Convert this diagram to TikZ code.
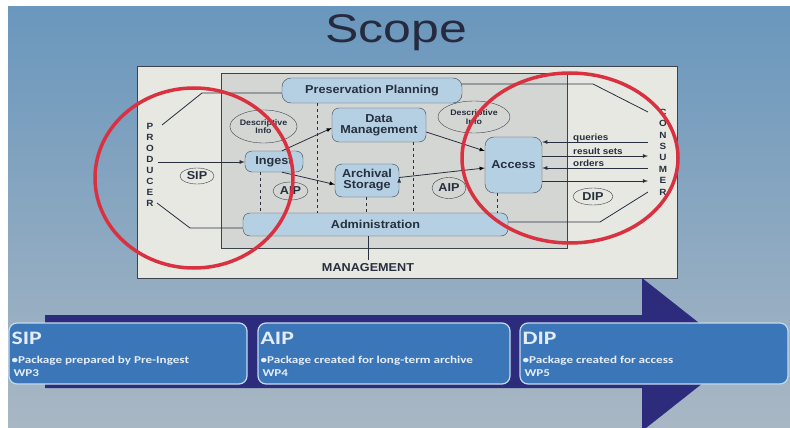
\documentclass[tikz,border=0pt]{standalone}
\usepackage{fontspec}
\setmainfont{Liberation Sans}[FakeStretch=1.1]
\newfontfamily\titlefont{Liberation Sans}[FakeStretch=1.25]
\newfontfamily\calibri{Carlito}[FakeStretch=1.25]
\usetikzlibrary{shapes.geometric,arrows}

\definecolor{slidetop}{HTML}{6A97BD}
\definecolor{slidebottom}{HTML}{A9B7C4}
\definecolor{paper}{HTML}{E7E8E1}
\definecolor{oaisgray}{HTML}{D4D6D4}
\definecolor{oaisblue}{HTML}{B6D0E3}
\definecolor{edge}{HTML}{3C434C}
\definecolor{ink}{HTML}{27303F}
\definecolor{ringred}{HTML}{DA3140}
\definecolor{navy}{HTML}{2D2B7C}
\definecolor{wpblue}{HTML}{3B77B8}
\definecolor{wpedge}{HTML}{C6DAEE}
\definecolor{wptext}{HTML}{E4EDF7}

\newcommand\oaisfont{\bfseries\fontsize{11.5pt}{11pt}\selectfont}
\newcommand\descfont{\bfseries\fontsize{8pt}{8.5pt}\selectfont}
\newcommand\labfont{\bfseries\fontsize{9pt}{10pt}\selectfont}

\begin{document}
\begin{tikzpicture}[x=1pt,y=-1pt,>=latex,
  box/.style={draw=edge,fill=oaisblue,rounded corners=7pt,align=center,inner sep=0pt,font=\oaisfont,text=ink},
  pack/.style={draw=edge,ellipse,inner sep=0pt,font=\oaisfont,text=ink},
  desc/.style={draw=edge,ellipse,inner sep=0pt,align=center,font=\descfont,text=ink},
  lab/.style={font=\labfont,text=ink,inner sep=0pt},
  flow/.style={draw=ink,line width=.8pt},
  ring/.style={draw=ringred,line width=3.5pt,ellipse,inner sep=0pt},
  wp/.style={draw=wpedge,fill=wpblue,line width=1.2pt,rounded corners=8pt,minimum height=61pt,inner sep=0pt}]
\useasboundingbox (0,0) rectangle (790,428);
\fill[white] (0,0) rectangle (790,428);
\shade[top color=slidetop,bottom color=slidebottom] (8,7) rectangle (790,428);

\node[font=\titlefont\fontsize{40pt}{40pt}\selectfont,text={rgb,255:red,38;green,42;blue,62},anchor=base] (title) at (396,43) {Scope};

% OAIS frame
\draw[edge,fill=paper] (137,66) rectangle (677,278);
\draw[edge,fill=oaisgray] (221,73) rectangle (567,248);

% functional entities
\node[box,minimum width=180pt,minimum height=25pt,rounded corners=9pt] (pp) at (372,90.5) {Preservation Planning};
\node[box,minimum width=94pt,minimum height=34pt] (dm) at (379,125) {Data\\Management};
\node[box,minimum width=58pt,minimum height=21pt] (ingest) at (274,161.5) {Ingest};
\node[box,minimum width=64pt,minimum height=33pt] (as) at (367,180.5) {Archival\\Storage};
\node[box,minimum width=57pt,minimum height=56pt,rounded corners=9pt] (access) at (513.5,165) {Access};
\node[box,minimum width=265pt,minimum height=23pt] (admin) at (375.5,224.5) {Administration};

\node[desc,minimum width=57pt,minimum height=33pt] (descl) at (263.5,126.5) {Descriptive\\Info};
\node[desc,minimum width=72pt,minimum height=32pt] (descr) at (474,117) {Descriptive\\Info};
\node[pack,minimum width=34pt,minimum height=16pt] (sip) at (197,176) {SIP};
\node[pack,minimum width=35pt,minimum height=18pt] (aipl) at (290.5,191) {AIP};
\node[pack,minimum width=34pt,minimum height=21pt] (aipr) at (449,188) {AIP};
\node[pack,minimum width=40pt,minimum height=17pt] (dip) at (593,196.5) {DIP};

\node[font=\oaisfont,text=ink] (mgmt) at (368,268) {MANAGEMENT};
\node[font=\bfseries\fontsize{9pt}{10.9pt}\selectfont,text=ink,align=center,inner sep=0pt] (producer) at (150,165) {P\\R\\O\\D\\U\\C\\E\\R};
\node[font=\bfseries\fontsize{9pt}{11.4pt}\selectfont,text=ink,align=center,inner sep=0pt] (consumer) at (663,152) {C\\O\\N\\S\\U\\M\\E\\R};

% internal flows
\path[flow,->]
  ([xshift=8pt]ingest.north) edge ([yshift=-3pt]dm.west)
  ([xshift=8pt]ingest.south) edge ([yshift=-4pt]as.west)
  ([yshift=-7pt]dm.east) edge ([yshift=14pt]access.west)
  ([yshift=3pt]as.east) edge ([yshift=-3pt]access.west);
\foreach \n/\s in {ingest/-14,pp/-55,as/-1,dm/34,access/-16}{
  \path ([xshift=\s pt]\n.south) coordinate (d\n);
  \draw[flow,dashed] (d\n) -- (d\n |- admin.north);
}
\draw[flow] (mgmt.north |- admin.south) -- (mgmt.north);

% producer side
\coordinate (p1) at (162,125); \coordinate (p2) at (202,93);
\coordinate (p3) at (158,162);
\coordinate (p4) at (157,203); \coordinate (p5) at (190,228);
\draw[flow] (p1) -- (p2) -- (p2 -| pp.west);
\draw[flow,->] (p3) -- (p3 -| ingest.west);
\draw[flow] (p4) -- (p5) -- (p5 -| admin.west);

% consumer side
\coordinate (c1) at (593,84); \coordinate (c2) at (648,112);
\coordinate (c3) at (600,222); \coordinate (c4) at (648,192);
\draw[flow] (c1 -| pp.east) -- (c1) -- (c2);
\draw[flow] (c3 -| admin.east) -- (c3) -- (c4);
\foreach \y/\tip in {142/<-,156/->,168/<-,181/->}{
  \coordinate (q\y) at (648,\y);
  \draw[flow,\tip] (q\y -| access.east) -- (q\y);
}
\node[lab,anchor=base west] (queries) at (573,140.5) {queries};
\node[lab,anchor=base west] (results) at (573,154) {result sets};
\node[lab,anchor=base west] (orders) at (573,166) {orders};

% highlights
\node[ring,minimum width=198pt,minimum height=180pt] (leftring) at (194,178) {};
\node[ring,minimum width=216pt,minimum height=170pt] (rightring) at (570,158) {};

% package timeline
\fill[navy] (45,315) -- (642,315) -- (642,278) -- (739,354.5) -- (646,428) -- (642,428) -- (642,388) -- (45,388) -- cycle;
\node[wp,minimum width=238pt] (sipbox) at (128,353.5) {};
\node[wp,minimum width=252pt] (aipbox) at (384,353.5) {};
\node[wp,minimum width=268pt] (dipbox) at (654,353.5) {};
\foreach \b/\t/\l/\w in {sipbox/SIP/Package prepared by Pre-Ingest/WP3,
                         aipbox/AIP/Package created for long-term archive/WP4,
                         dipbox/DIP/Package created for access/WP5}{
  \node[anchor=base west,inner sep=0pt,text=wptext,font=\calibri\bfseries\fontsize{19pt}{19pt}\selectfont] (\t-head) at ([xshift=3pt,yshift=-22pt]\b.north west) {\t};
  \node[anchor=base west,inner sep=0pt,text=wptext,align=left,font=\calibri\bfseries\fontsize{10.5pt}{13pt}\selectfont] (\t-note) at ([xshift=3pt,yshift=-54.5pt]\b.north west) {•\l\\\hspace*{2pt}\w};
}
\end{tikzpicture}
\end{document}
